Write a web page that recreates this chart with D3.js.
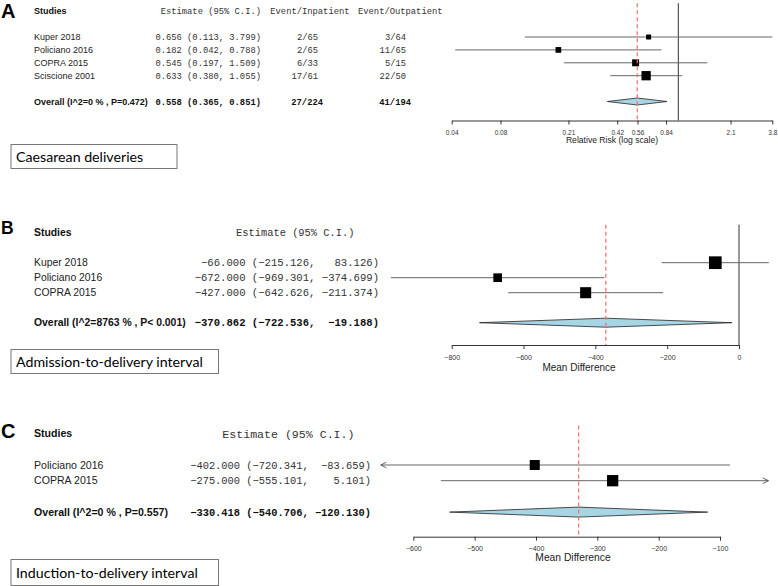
<!DOCTYPE html>
<html>
<head>
<meta charset="utf-8">
<style>
  body { margin: 0; background: #fff; }
  svg text { font-family: "Liberation Sans", Arial, sans-serif; fill: #111; }
  .mono { font-family: "Liberation Mono", "Courier New", monospace; white-space: pre; }
  .axis text { fill: #333; font-family: "Liberation Sans", Arial, sans-serif; }
  .axis path, .axis line { stroke: #333; }
  .box text { font-family: Lato, "Open Sans", sans-serif; }
</style>
</head>
<body>
<svg width="778" height="586" id="chart"></svg>
<script src="https://d3js.org/d3.v7.min.js"></script>
<script>
// ---- panel A: caesarean deliveries (relative risk, log scale)
var studiesA = ["Kuper 2018", "Policiano 2016", "COPRA 2015", "Sciscione 2001"];
var estA = [0.656, 0.182, 0.545, 0.633];
var lowA = [0.113, 0.042, 0.197, 0.380];
var highA = [3.799, 0.788, 1.509, 1.055];
var weightA = [13, 17, 25, 45];
var inpatientA = ["2/65", "2/65", "6/33", "17/61"];
var outpatientA = ["3/64", "11/65", "5/15", "22/50"];
var overallA = { label: "Overall (I^2=0 % , P=0.472)", est: 0.558, low: 0.365, high: 0.851 };
var overallEventsA = ["27/224", "41/194"];
var ticksA = [0.04, 0.08, 0.21, 0.42, 0.56, 0.84, 2.1, 3.8];

// ---- panel B: admission-to-delivery interval (mean difference)
var studiesB = ["Kuper 2018", "Policiano 2016", "COPRA 2015"];
var estB = [-66, -672, -427];
var lowB = [-215.126, -969.301, -642.626];
var highB = [83.126, -374.699, -211.374];
var weightB = [45, 21, 34];
var overallB = { label: "Overall (I^2=8763 % , P< 0.001)", est: -370.862, low: -722.536, high: -19.188 };
var ticksB = [-800, -600, -400, -200, 0];

// ---- panel C: induction-to-delivery interval (mean difference)
var studiesC = ["Policiano 2016", "COPRA 2015"];
var estC = [-402, -275];
var lowC = [-720.341, -555.101];
var highC = [-83.659, 5.101];
var weightC = [44, 56];
var overallC = { label: "Overall (I^2=0 % , P=0.557)", est: -330.418, low: -540.706, high: -120.130 };
var ticksC = [-600, -500, -400, -300, -200, -100];

var svg = d3.select("#chart");

var defs = svg.append("defs");
defs.append("marker").attr("id", "arrow")
    .attr("viewBox", "0 0 10 10").attr("refX", 9).attr("refY", 5)
    .attr("markerWidth", 7).attr("markerHeight", 7).attr("orient", "auto-start-reverse")
    .attr("markerUnits", "userSpaceOnUse")
    .append("path").attr("d", "M1,1 L9,5 L1,9").attr("fill", "none").attr("stroke", "#444").attr("stroke-width", 1.2);

// formats "est (low, high)" with fixed width fields like the R output
function ciText(e, l, h, w) {
    var f = d3.format(".3f");
    return f(e).padStart(w) + " (" + f(l).padStart(w) + ", " + f(h).padStart(w) + ")";
}

function drawPanel(p) {
    var g = svg.append("g");
    var n = p.studies.length;
    var row = d3.scaleLinear().domain([0, 1]).range([p.rowTop, p.rowTop + p.rowStep]);
    var headerY = row(-2), overallY = row(n + 1);
    var w = d3.max(p.low.concat(p.high, p.est, [p.overall.low, p.overall.high, p.overall.est]),
        function (v) { return d3.format(".3f")(v).length; });

    // panel letter
    g.append("text").attr("x", 1).attr("y", p.letterY)
        .style("font-size", p.letterSize + "px").style("font-weight", "bold").style("fill", "#000")
        .text(p.letter);

    // header row
    g.append("text").attr("x", 34).attr("y", headerY).attr("dy", "0.35em")
        .style("font-size", p.nameSize + "px").style("font-weight", "bold").text("Studies");
    g.append("text").attr("class", "mono").attr("x", p.headerX).attr("y", headerY).attr("dy", "0.35em")
        .attr("text-anchor", "end").style("font-size", p.headerSize + "px").style("fill", "#333")
        .text("Estimate (95% C.I.)");
    (p.extraCols || []).forEach(function (c) {
        g.append("text").attr("class", "mono").attr("x", c.headerX).attr("y", headerY).attr("dy", "0.35em")
            .attr("text-anchor", "end").style("font-size", p.headerSize + "px").style("fill", "#333")
            .text(c.header);
    });

    // study rows
    p.studies.forEach(function (s, i) {
        var y = row(i);
        g.append("text").attr("x", 34).attr("y", y).attr("dy", "0.35em")
            .style("font-size", p.nameSize + "px").style("fill", "#222").text(s);
        g.append("text").attr("class", "mono").attr("x", p.estX).attr("y", y).attr("dy", "0.35em")
            .attr("text-anchor", "end").style("font-size", p.monoSize + "px").style("fill", "#333")
            .text(ciText(p.est[i], p.low[i], p.high[i], w));
        (p.extraCols || []).forEach(function (c) {
            g.append("text").attr("class", "mono").attr("x", c.rowX).attr("y", y).attr("dy", "0.35em")
                .attr("text-anchor", "end").style("font-size", p.monoSize + "px").style("fill", "#333")
                .text(c.values[i]);
        });
    });

    // overall row
    g.append("text").attr("x", 34).attr("y", overallY).attr("dy", "0.35em")
        .style("font-size", p.nameSize + "px").style("font-weight", "bold").text(p.overall.label);
    g.append("text").attr("class", "mono").attr("x", p.estX).attr("y", overallY).attr("dy", "0.35em")
        .attr("text-anchor", "end").style("font-size", p.monoSize + "px").style("font-weight", "bold")
        .text(ciText(p.overall.est, p.overall.low, p.overall.high, w));
    (p.extraCols || []).forEach(function (c) {
        g.append("text").attr("class", "mono").attr("x", c.overallX).attr("y", overallY).attr("dy", "0.35em")
            .attr("text-anchor", "end").style("font-size", p.monoSize + "px").style("font-weight", "bold")
            .text(c.overall);
    });

    var x = p.x;
    var lineTop = headerY - 8;

    // reference line (no effect)
    if (p.nullValue !== null) {
        g.append("line").attr("x1", x(p.nullValue)).attr("x2", x(p.nullValue))
            .attr("y1", lineTop).attr("y2", p.axisY).attr("stroke", "#333").attr("stroke-width", 1);
    }

    // confidence intervals, clipped with arrows where they run off
    var lim = p.clip ? p.clip.map(x) : null;
    p.studies.forEach(function (s, i) {
        var x1 = x(p.low[i]), x2 = x(p.high[i]);
        var arrowL = false, arrowR = false;
        if (lim && x1 < lim[0]) { x1 = lim[0]; arrowL = true; }
        if (lim && x2 > lim[1]) { x2 = lim[1]; arrowR = true; }
        var ln = g.append("line").attr("x1", x1).attr("x2", x2).attr("y1", row(i)).attr("y2", row(i))
            .attr("stroke", "#666").attr("stroke-width", 1);
        if (arrowL) ln.attr("marker-start", "url(#arrow)");
        if (arrowR) ln.attr("marker-end", "url(#arrow)");
    });

    // squares sized by weight
    var size = d3.scaleSqrt().domain([0, d3.max(p.weight)]).range([0, p.maxSquare]);
    g.selectAll(".sq").data(p.est).enter().append("rect")
        .attr("x", function (d, i) { return x(d) - size(p.weight[i]) / 2; })
        .attr("y", function (d, i) { return row(i) - size(p.weight[i]) / 2; })
        .attr("width", function (d, i) { return size(p.weight[i]); })
        .attr("height", function (d, i) { return size(p.weight[i]); })
        .attr("fill", "#000");

    // summary diamond
    var o = p.overall;
    g.append("polygon")
        .attr("points", [[x(o.low), overallY], [x(o.est), overallY - p.diamondH], [x(o.high), overallY], [x(o.est), overallY + p.diamondH]].join(" "))
        .attr("fill", "#a8d5e4").attr("stroke", "#222").attr("stroke-width", 0.8);

    // pooled estimate dashed line
    g.append("line").attr("x1", x(o.est)).attr("x2", x(o.est))
        .attr("y1", lineTop).attr("y2", p.axisY)
        .attr("stroke", "#ff6b6b").attr("stroke-width", 1.2).attr("stroke-dasharray", "4,3");

    // x axis
    var ax = g.append("g").attr("class", "axis").attr("transform", "translate(0," + p.axisY + ")")
        .call(d3.axisBottom(x).tickValues(p.ticks).tickSize(4).tickSizeOuter(0).tickFormat(p.tickFormat));
    ax.selectAll("text").style("font-size", p.tickSize + "px").attr("dy", "1.1em");
    g.append("text").attr("x", p.labelX).attr("y", p.axisY + p.labelDy).attr("text-anchor", "middle")
        .style("font-size", p.labelSize + "px").style("fill", "#222").text(p.axisLabel);

    // boxed panel title
    var box = g.append("g").attr("class", "box");
    box.append("rect").attr("x", p.box[0]).attr("y", p.box[1]).attr("width", p.box[2]).attr("height", p.box[3])
        .attr("fill", "#fff").attr("stroke", "#777").attr("stroke-width", 1);
    box.append("text").attr("x", p.box[0] + 5).attr("y", p.box[1] + p.box[3] / 2).attr("dy", "0.36em")
        .style("font-size", "14.2px").style("fill", "#000").text(p.title);
}

drawPanel({
    letter: "A", letterY: 18, letterSize: 20,
    studies: studiesA, est: estA, low: lowA, high: highA, weight: weightA, overall: overallA,
    rowTop: 37, rowStep: 12.9, nameSize: 9, monoSize: 8.8, headerSize: 8.8, estX: 261, headerX: 261,
    extraCols: [
        { header: "Event/Inpatient", headerX: 349.5, rowX: 318, overallX: 323, values: inpatientA, overall: overallEventsA[0] },
        { header: "Event/Outpatient", headerX: 442.5, rowX: 406, overallX: 411, values: outpatientA, overall: overallEventsA[1] }
    ],
    x: d3.scaleLog().domain([0.04, 3.8]).range([451.7, 772.3]),
    nullValue: 1, clip: null, maxSquare: 9.3, diamondH: 3.5,
    axisY: 120.5, ticks: ticksA, tickFormat: function (d) { return String(d); }, tickSize: 6.5,
    axisLabel: "Relative Risk (log scale)", labelX: 612, labelDy: 22, labelSize: 8.6,
    box: [11, 144.5, 166, 24], title: "Caesarean deliveries"
});

drawPanel({
    letter: "B", letterY: 233.5, letterSize: 17.5,
    studies: studiesB, est: estB, low: lowB, high: highB, weight: weightB, overall: overallB,
    rowTop: 262.7, rowStep: 15, nameSize: 10.4, monoSize: 10.6, headerSize: 10.4, estX: 379, headerX: 354.5,
    x: d3.scaleLinear().domain([-800, 0]).range([451.7, 739]),
    nullValue: 0, clip: null, maxSquare: 12.7, diamondH: 4.5,
    axisY: 345, ticks: ticksB, tickFormat: d3.format("d"), tickSize: 7,
    axisLabel: "Mean Difference", labelX: 579, labelDy: 26, labelSize: 10,
    box: [11, 349.5, 207.5, 24], title: "Admission-to-delivery interval"
});

drawPanel({
    letter: "C", letterY: 438, letterSize: 20,
    studies: studiesC, est: estC, low: lowC, high: highC, weight: weightC, overall: overallC,
    rowTop: 465, rowStep: 15.7, nameSize: 10.6, monoSize: 10.4, headerSize: 11.6, estX: 371, headerX: 354.5,
    x: d3.scaleLinear().domain([-600, -100]).range([413.3, 720]),
    nullValue: null, clip: [-653, -21], maxSquare: 11.3, diamondH: 5,
    axisY: 536.7, ticks: ticksC, tickFormat: d3.format("d"), tickSize: 7,
    axisLabel: "Mean Difference", labelX: 573, labelDy: 24, labelSize: 10.3,
    box: [11, 559.5, 207.5, 26], title: "Induction-to-delivery interval"
});
</script>
</body>
</html>
